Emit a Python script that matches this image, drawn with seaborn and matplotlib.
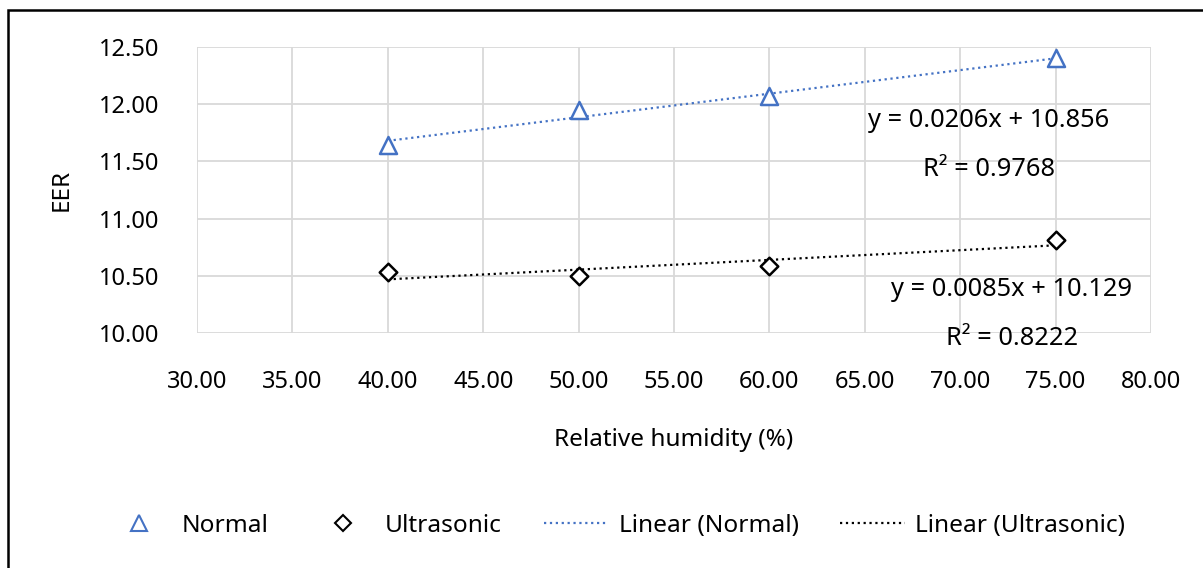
import numpy as np
import pandas as pd
import matplotlib
matplotlib.use("Agg")
import matplotlib.pyplot as plt
import seaborn as sns
from matplotlib.lines import Line2D
from matplotlib.patches import Rectangle

# Measured EER against relative humidity
humidity = [40, 50, 60, 75]
eer_normal = [11.64, 11.95, 12.07, 12.40]
eer_ultrasonic = [10.53, 10.50, 10.59, 10.81]

# Linear trendline coefficients (slope, intercept) and R²
fit_normal = (0.0206, 10.856)
fit_ultrasonic = (0.0085, 10.129)
r2_normal = 0.9768
r2_ultrasonic = 0.8222

x_ticks = [30, 35, 40, 45, 50, 55, 60, 65, 70, 75, 80]
y_ticks = [10.0, 10.5, 11.0, 11.5, 12.0, 12.5]

BLUE = "#4472C4"
GRID = "#d9d9d9"
FONT = "Noto Sans"
FS_TICK = 17
FS_LABEL = 17.5
FS_EQ = 18.3
FS_LEG = 17.6

sns.set_theme(style="white")
plt.rcParams["font.family"] = [FONT, "DejaVu Sans"]
plt.rcParams["text.color"] = "black"
plt.rcParams["axes.labelcolor"] = "black"
plt.rcParams["xtick.color"] = "black"
plt.rcParams["ytick.color"] = "black"

fig = plt.figure(figsize=(12.03, 5.68), dpi=100)
ax = fig.add_axes([197 / 1203, 1 - 333 / 568, (1151 - 197) / 1203, (333 - 47) / 568])

df = pd.DataFrame({"rh": humidity, "normal": eer_normal, "ultra": eer_ultrasonic})

# trendlines over the measured range
x_fit = np.array([min(humidity), max(humidity)], dtype=float)
trend = pd.DataFrame({
    "rh": x_fit,
    "normal": fit_normal[0] * x_fit + fit_normal[1],
    "ultra": fit_ultrasonic[0] * x_fit + fit_ultrasonic[1],
})
sns.lineplot(data=trend, x="rh", y="normal", ax=ax, color=BLUE, linestyle=":",
             linewidth=1.6, zorder=3)
sns.lineplot(data=trend, x="rh", y="ultra", ax=ax, color="black", linestyle=":",
             linewidth=1.6, zorder=3)

sns.scatterplot(data=df, x="rh", y="normal", ax=ax, marker="^", s=150,
                facecolor="white", edgecolor=BLUE, linewidth=1.8, zorder=4)
sns.scatterplot(data=df, x="rh", y="ultra", ax=ax, marker="D", s=80,
                facecolor="white", edgecolor="black", linewidth=1.8, zorder=4)

ax.set_xlim(30, 80)
ax.set_ylim(10, 12.5)
ax.set_xticks(x_ticks)
ax.set_yticks(y_ticks)
ax.set_xticklabels([f"{v:.2f}" for v in x_ticks], fontsize=FS_TICK)
ax.set_yticklabels([f"{v:.2f}" for v in y_ticks], fontsize=FS_TICK)
ax.tick_params(axis="x", length=0, pad=27)
ax.tick_params(axis="y", length=0, pad=27)
ax.grid(True, color=GRID, linewidth=1.3)
ax.set_axisbelow(True)
for s in ax.spines.values():
    s.set_visible(False)

ax.set_xlabel("Relative humidity (%)", fontsize=FS_LABEL, labelpad=24)
ax.set_ylabel("EER", fontsize=FS_LABEL, labelpad=18)

# trendline equations
ax.text(71.5, 11.86, f"y = {fit_normal[0]}x + {fit_normal[1]}", fontsize=FS_EQ,
        ha="center", va="center", zorder=5)
ax.text(71.5, 11.43, f"R² = {r2_normal}", fontsize=FS_EQ, ha="center", va="center", zorder=5)
ax.text(72.7, 10.38, f"y = {fit_ultrasonic[0]}x + {fit_ultrasonic[1]}", fontsize=FS_EQ,
        ha="center", va="center", zorder=5)
ax.text(72.7, 9.95, f"R² = {r2_ultrasonic}", fontsize=FS_EQ, ha="center", va="center",
        zorder=5, clip_on=False)

handles = [
    Line2D([], [], linestyle="none", marker="^", markersize=11, markerfacecolor="white",
           markeredgecolor=BLUE, markeredgewidth=1.5),
    Line2D([], [], linestyle="none", marker="D", markersize=8, markerfacecolor="white",
           markeredgecolor="black", markeredgewidth=1.5),
    Line2D([], [], color=BLUE, linestyle=":", linewidth=1.6),
    Line2D([], [], color="black", linestyle=":", linewidth=1.6),
]
labels = ["Normal", "Ultrasonic", "Linear (Normal)", "Linear (Ultrasonic)"]
fig.legend(handles, labels, loc="center", bbox_to_anchor=(0.512, 1 - 526 / 568),
           ncol=4, frameon=False, fontsize=FS_LEG, handlelength=2.65, handletextpad=0.42,
           columnspacing=1.7)

# chart frame
fig.patches.append(Rectangle((8 / 1203, -0.05), 1.2, 1 - 10 / 568 + 0.05,
                             transform=fig.transFigure, fill=False,
                             edgecolor="black", linewidth=1.8))

fig.savefig("out.png", dpi=100)
